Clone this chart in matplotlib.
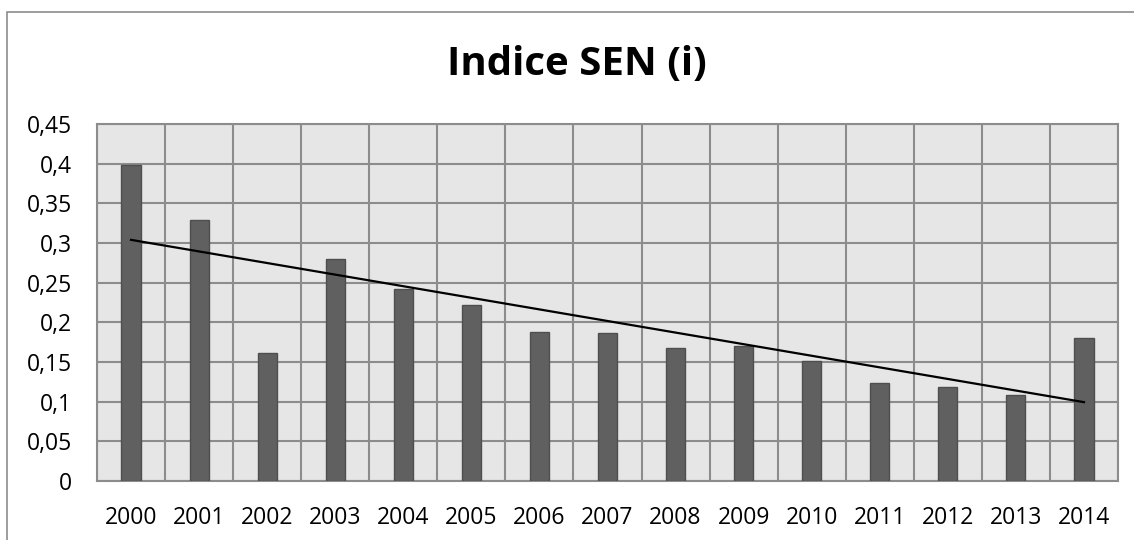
import matplotlib.pyplot as plt
import numpy as np
from matplotlib.patches import Rectangle
from matplotlib.ticker import FuncFormatter, MultipleLocator

years = ["2000", "2001", "2002", "2003", "2004", "2005", "2006", "2007",
         "2008", "2009", "2010", "2011", "2012", "2013", "2014"]
sen = [0.398, 0.329, 0.161, 0.280, 0.242, 0.222, 0.188, 0.187,
       0.168, 0.170, 0.151, 0.123, 0.118, 0.108, 0.180]

plt.rcParams['font.family'] = ['Open Sans', 'DejaVu Sans']

fig = plt.figure(figsize=(11.34, 5.4), dpi=100)
ax = fig.add_axes([0.0855, 0.1093, 0.9004, 0.6611])

# chart border (cut off on the right and bottom like the original)
fig.patches.append(Rectangle((0.006, -0.05), 1.1, 1.028, transform=fig.transFigure,
                             fill=False, edgecolor='#8c8c8c', linewidth=1.2))

x = np.arange(len(years))
ax.set_facecolor('#e6e6e6')
ax.bar(x, sen, width=0.28, color='#606060', edgecolor='#4f4f4f', linewidth=1, zorder=3)

# linear trend line
k, b = np.polyfit(x, sen, 1)
ax.plot([x[0], x[-1]], [k * x[0] + b, k * x[-1] + b], color='black', linewidth=1.6, zorder=4)

ax.set_xlim(-0.5, len(years) - 0.5)
ax.set_ylim(0, 0.45)
ax.yaxis.set_major_locator(MultipleLocator(0.05))
ax.yaxis.set_major_formatter(FuncFormatter(lambda v, p: f"{v:.2f}".rstrip('0').rstrip('.').replace('.', ',') if v else "0"))
ax.set_xticks(x)
ax.set_xticklabels(years)
ax.set_xticks(np.arange(-0.5, len(years), 1), minor=True)

ax.grid(True, axis='y', which='major', color='#8c8c8c', linewidth=1.5, zorder=1)
ax.grid(True, axis='x', which='minor', color='#8c8c8c', linewidth=1.5, zorder=1)
ax.grid(False, axis='x', which='major')
ax.set_axisbelow(True)
for s in ax.spines.values():
    s.set_color('#8c8c8c')
    s.set_linewidth(1.5)

ax.tick_params(axis='both', which='both', length=0, labelsize=16.5, colors='black')
ax.tick_params(axis='x', pad=18)
ax.tick_params(axis='y', pad=18)

fig.text(0.509, 0.861, "Indice SEN (i)", ha='center', va='baseline', fontsize=29, fontweight='bold')

fig.savefig("out.png", dpi=100)
